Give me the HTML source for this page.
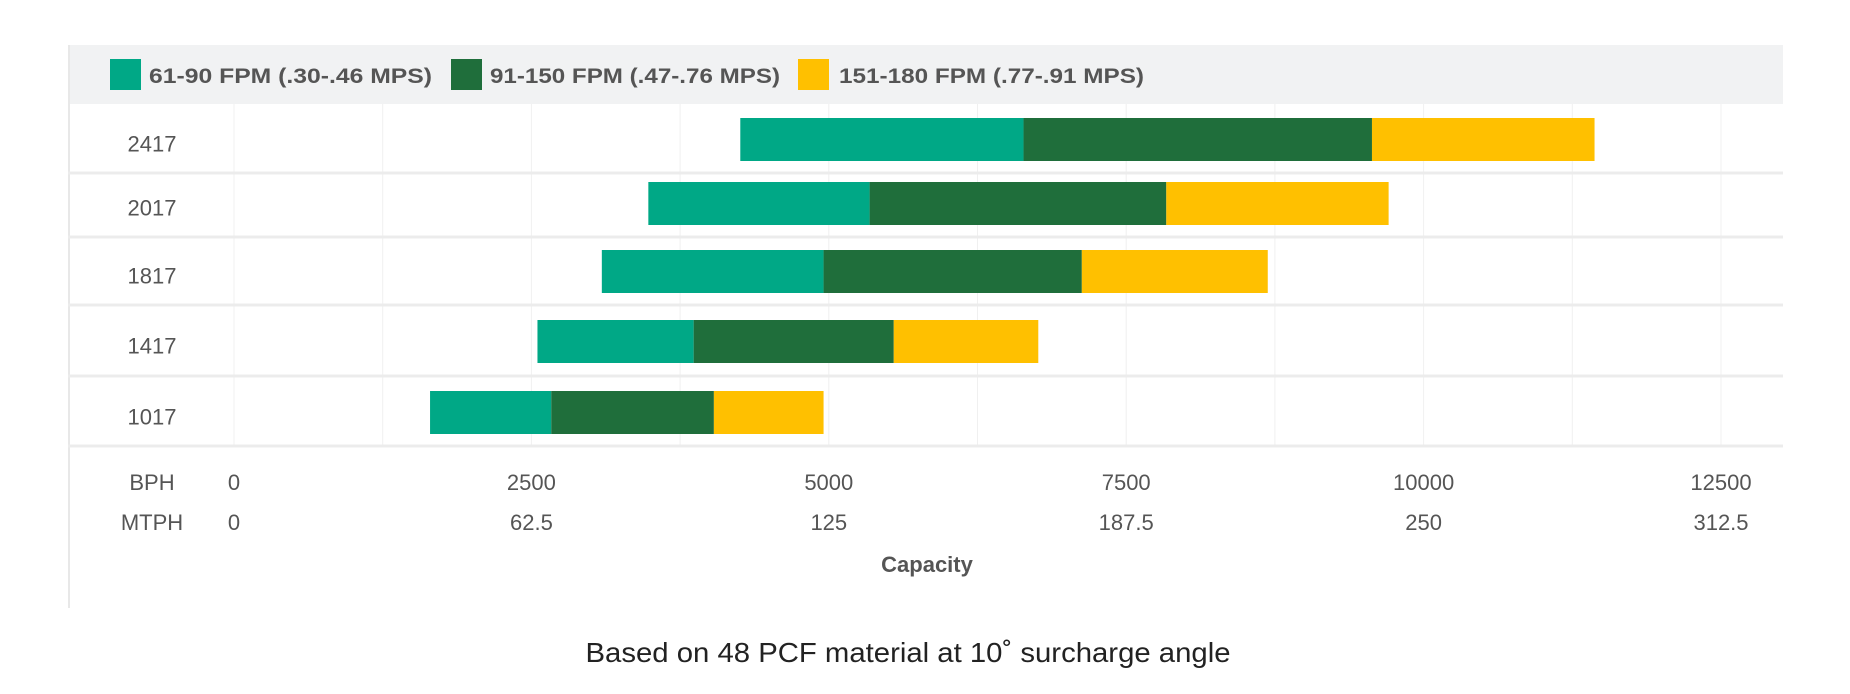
<!DOCTYPE html>
<html><head><meta charset="utf-8"><style>
html,body{margin:0;padding:0;background:#fff;width:1850px;height:694px;overflow:hidden}
svg text{font-family:"Liberation Sans",sans-serif}
</style></head><body>
<svg id="chart" width="1850" height="694" viewBox="0 0 1850 694" xmlns="http://www.w3.org/2000/svg">
<rect x="68" y="45" width="1715" height="59" fill="#f1f2f3"/>
<line x1="69" y1="45" x2="69" y2="608" stroke="#e8e8e8" stroke-width="2"/>
<g id="grid"></g>
<g id="bars"></g>
<g id="legend"></g>
<g id="axis"></g>
<text x="927" y="572" text-anchor="middle" font-size="22" font-weight="bold" fill="#555">Capacity</text>
<text x="908" y="662" text-anchor="middle" font-size="28" fill="#222" textLength="645" lengthAdjust="spacingAndGlyphs">Based on 48 PCF material at 10˚ surcharge angle</text>
</svg>
<script>
const categories = ["2417","2017","1817","1417","1017"];
const starts = [4256, 3483, 3092, 2551, 1648];
const seriesLow = [6637, 5343, 4956, 3864, 2667];
const seriesMid = [9566, 7837, 7127, 5546, 4034];
const seriesHigh = [11437, 9706, 8690, 6761, 4956];
const bphTicks = [0, 2500, 5000, 7500, 10000, 12500];
const mtphTicks = ["0", "62.5", "125", "187.5", "250", "312.5"];
const legendLabels = ["61-90 FPM (.30-.46 MPS)", "91-150 FPM (.47-.76 MPS)", "151-180 FPM (.77-.91 MPS)"];

const NS = "http://www.w3.org/2000/svg";
const colors = ["#00a886", "#1f6e3b", "#ffc000"];
const x = v => 234 + v * (1487 / 12500);
const rowBot = [173, 237, 305, 376, 446];
const barTop = [118, 182, 250, 320, 391];
const barH = 43;
function mk(tag, attrs, parent){const e=document.createElementNS(NS,tag);for(const k in attrs)e.setAttribute(k,attrs[k]);parent.appendChild(e);return e;}
const grid=document.getElementById('grid'), bars=document.getElementById('bars'), axis=document.getElementById('axis'), legend=document.getElementById('legend');

for(let v=0; v<=12500; v+=1250){
  const l=mk('line',{x1:x(v),x2:x(v),y1:104,y2:446,stroke:'#f0f0f0','stroke-width':1},grid);
  
  
}
categories.forEach((c,i)=>{
  const s=mk('line',{x1:68,x2:1783,y1:rowBot[i],y2:rowBot[i],stroke:'#ececec','stroke-width':3},grid);
  
  
  const t=mk('text',{x:152,y:barTop[i]+barH/2+12,'text-anchor':'middle','font-size':22,fill:'#555'},axis);
  t.textContent=c;
  
  
  const segs=[[starts[i],seriesLow[i]],[seriesLow[i],seriesMid[i]],[seriesMid[i],seriesHigh[i]]];
  segs.forEach((sg,j)=>{
    const r=mk('rect',{x:x(sg[0]),y:barTop[i],width:x(sg[1])-x(sg[0]),height:barH,fill:colors[j]},bars);
    
    
  });
});
const b=mk('text',{x:152,y:490,'text-anchor':'middle','font-size':22,fill:'#555'},axis);
b.textContent='BPH';


const m=mk('text',{x:152,y:530,'text-anchor':'middle','font-size':22,fill:'#555'},axis);
m.textContent='MTPH';


bphTicks.forEach((v,i)=>{
  const t=mk('text',{x:x(v),y:490,'text-anchor':'middle','font-size':22,fill:'#555'},axis);
  t.textContent=String(v);
  
  
  const u=mk('text',{x:x(v),y:530,'text-anchor':'middle','font-size':22,fill:'#555'},axis);
  u.textContent=mtphTicks[i];
  
  
});
const swX=[110,451,798], txX=[149,490,839], txW=[283,290,305];
legendLabels.forEach((lb,i)=>{
  const sw=mk('rect',{x:swX[i],y:59,width:31,height:31,fill:colors[i]},legend);
  
  
  const t=mk('text',{x:txX[i],y:83,'font-size':21,'font-weight':'bold',fill:'#555',textLength:txW[i],lengthAdjust:'spacingAndGlyphs'},legend);
  t.textContent=lb;
  
  
});
</script>
</body></html>
